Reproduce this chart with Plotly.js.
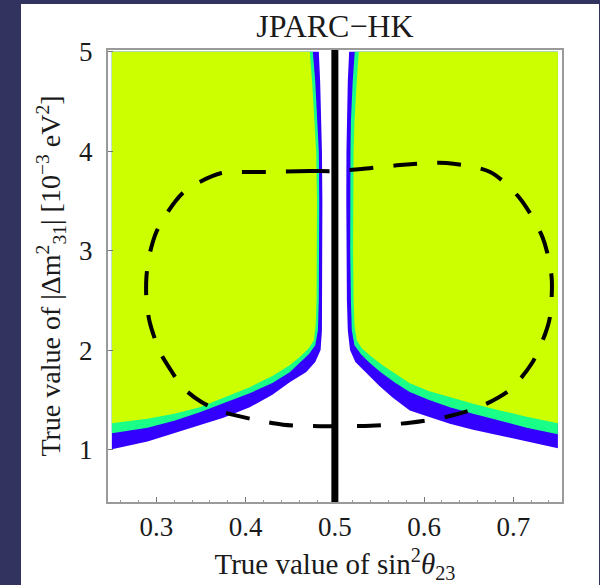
<!DOCTYPE html>
<html>
<head>
<meta charset="utf-8">
<script src="https://cdn.plot.ly/plotly-3.0.1.min.js"></script>
<style>
  html, body { margin: 0; padding: 0; background: #32335f; width: 600px; height: 585px; overflow: hidden; }
  #chart { position: absolute; left: 21px; top: 4px; width: 578px; height: 581px; background: #ffffff; }
</style>
</head>
<body>
<div id="chart"></div>
<script>
// ---- data ----
const chartTitle = "JPARC\u2212HK";
const gridMinX = 0.25, gridMaxX = 0.75, gridMaxY = 5.0;
const trueTheta = 0.5;

// left-hand region boundaries (from top of the frame down to the left edge)
const yellowLeftX = [0.4719, 0.4745, 0.4775, 0.479, 0.480, 0.480, 0.4795, 0.4785, 0.4765, 0.471, 0.462, 0.4494, 0.430, 0.4046, 0.375, 0.3486, 0.320, 0.290, 0.250];
const yellowLeftY = [5.0, 4.7, 4.3, 4.0, 3.5, 3.0, 2.5, 2.25, 2.10, 2.02, 1.94, 1.848, 1.74, 1.627, 1.52, 1.426, 1.36, 1.31, 1.265];
const greenLeftX  = [0.4753, 0.478, 0.4805, 0.482, 0.4825, 0.4825, 0.482, 0.481, 0.478, 0.471, 0.462, 0.4494, 0.430, 0.4046, 0.375, 0.3486, 0.320, 0.290, 0.250];
const greenLeftY  = [5.0, 4.7, 4.3, 4.0, 3.5, 3.0, 2.5, 2.2, 2.05, 1.96, 1.88, 1.778, 1.67, 1.566, 1.465, 1.375, 1.29, 1.22, 1.165];
const blueLeftX   = [0.482, 0.4835, 0.485, 0.4855, 0.486, 0.486, 0.486, 0.4855, 0.484, 0.478, 0.468, 0.4494, 0.430, 0.4046, 0.375, 0.3486, 0.320, 0.290, 0.250];
const blueLeftY   = [5.0, 4.7, 4.3, 4.0, 3.5, 3.0, 2.5, 2.2, 2.0, 1.88, 1.78, 1.677, 1.55, 1.426, 1.32, 1.245, 1.16, 1.08, 1.004];

// right-hand region boundaries (from top of the frame down to the right edge)
const yellowRightX = [0.5268, 0.5245, 0.522, 0.521, 0.5205, 0.5204, 0.521, 0.522, 0.5245, 0.530, 0.540, 0.553, 0.570, 0.584, 0.605, 0.6289, 0.655, 0.6849, 0.715, 0.750];
const yellowRightY = [5.0, 4.7, 4.3, 4.0, 3.5, 3.0, 2.5, 2.25, 2.10, 2.02, 1.94, 1.85, 1.75, 1.666, 1.59, 1.525, 1.46, 1.394, 1.33, 1.265];
const greenRightX  = [0.5223, 0.520, 0.518, 0.5175, 0.517, 0.5172, 0.518, 0.519, 0.522, 0.529, 0.538, 0.551, 0.568, 0.584, 0.605, 0.6289, 0.655, 0.6849, 0.715, 0.750];
const greenRightY  = [5.0, 4.7, 4.3, 4.0, 3.5, 3.0, 2.5, 2.2, 2.05, 1.96, 1.88, 1.78, 1.67, 1.58, 1.50, 1.425, 1.36, 1.293, 1.22, 1.154];
const blueRightX   = [0.516, 0.5145, 0.5135, 0.513, 0.5128, 0.513, 0.5135, 0.5145, 0.517, 0.523, 0.535, 0.550, 0.565, 0.584, 0.605, 0.6289, 0.655, 0.6849, 0.715, 0.750];
const blueRightY   = [5.0, 4.7, 4.3, 4.0, 3.5, 3.0, 2.5, 2.2, 2.0, 1.88, 1.77, 1.64, 1.52, 1.394, 1.33, 1.26, 1.20, 1.142, 1.08, 1.013];

// dashed contour
const dashX = [0.500, 0.472, 0.416, 0.373, 0.3485, 0.3295, 0.3127, 0.300, 0.2925, 0.2888, 0.2888, 0.2925, 0.304, 0.316, 0.330, 0.350, 0.374, 0.405, 0.442, 0.483, 0.500, 0.540, 0.584, 0.6254, 0.6624, 0.696, 0.721, 0.736, 0.741, 0.743, 0.733, 0.707, 0.674, 0.625, 0.573, 0.530, 0.500];
const dashY = [3.80, 3.80, 3.79, 3.78, 3.69, 3.58, 3.39, 3.19, 2.97, 2.74, 2.50, 2.28, 1.98, 1.80, 1.62, 1.48, 1.38, 1.31, 1.25, 1.235, 1.235, 1.24, 1.27, 1.33, 1.43, 1.60, 1.87, 2.17, 2.33, 2.73, 3.13, 3.53, 3.79, 3.88, 3.86, 3.82, 3.80];

const xTickVals = [0.3, 0.4, 0.5, 0.6, 0.7];
const xTickText = ["0.3", "0.4", "0.5", "0.6", "0.7"];
const yTickVals = [1, 2, 3, 4, 5];
const yTickText = ["1", "2", "3", "4", "5"];

// ---- colours ----
const cYellow = "#ccff00", cGreen = "#1aff88", cBlue = "#3300ff";

function region(bx, by, edgeX, color) {
  return {
    type: "scatter", mode: "lines",
    x: [edgeX].concat(bx), y: [gridMaxY].concat(by),
    fill: "toself", fillcolor: color,
    line: {width: 0, color: color},
    hoverinfo: "skip", showlegend: false
  };
}

const traces = [
  region(blueLeftX, blueLeftY, gridMinX, cBlue),
  region(blueRightX, blueRightY, gridMaxX, cBlue),
  region(greenLeftX, greenLeftY, gridMinX, cGreen),
  region(greenRightX, greenRightY, gridMaxX, cGreen),
  region(yellowLeftX, yellowLeftY, gridMinX, cYellow),
  region(yellowRightX, yellowRightY, gridMaxX, cYellow),
  {
    type: "scatter", mode: "lines", x: dashX, y: dashY,
    line: {color: "#000000", width: 4, dash: "24px,20px", shape: "spline", smoothing: 0.8},
    hoverinfo: "skip", showlegend: false
  }
];

const serif = "Liberation Serif, Times New Roman, serif";

const layout = {
  width: 578, height: 581,
  margin: {l: 87, r: 37, t: 46, b: 83, pad: 0},
  paper_bgcolor: "#ffffff", plot_bgcolor: "#ffffff",
  showlegend: false, hovermode: false,
  font: {family: serif, color: "#1a1a1a"},
  title: {
    text: chartTitle, font: {family: serif, size: 32, color: "#1a1a1a"},
    x: 0.5, xref: "paper", y: 0.962, yref: "container", yanchor: "middle"
  },
  xaxis: {
    range: [0.2457, 0.7546], tickvals: xTickVals, ticktext: xTickText,
    ticks: "inside", ticklen: 5, tickwidth: 1, tickcolor: "#777777",
    minor: {dtick: 0.02, ticks: "inside", ticklen: 2.5, tickcolor: "#999999"},
    showgrid: false, zeroline: false,
    showline: true, mirror: true, linecolor: "#9a9a9a", linewidth: 2,
    tickfont: {family: serif, size: 27, color: "#1a1a1a"},
    title: {text: "True value of sin<sup>2</sup><i>\u03b8</i><sub>23</sub>", font: {family: serif, size: 29, color: "#1a1a1a"}, standoff: 12}
  },
  yaxis: {
    range: [0.473, 5.017], tickvals: yTickVals, ticktext: yTickText,
    ticks: "inside", ticklen: 5, tickwidth: 1, tickcolor: "#777777",
    showgrid: false, zeroline: false,
    showline: true, mirror: true, linecolor: "#9a9a9a", linewidth: 2,
    tickfont: {family: serif, size: 27, color: "#1a1a1a"},
    ticklabelstandoff: 8,
    title: {text: "True value of |\u0394m<sup>2</sup><sub>31</sub>| [10<sup>\u22123</sup> eV<sup>2</sup>]", font: {family: serif, size: 28, color: "#1a1a1a"}, standoff: 10}
  },
  shapes: [
    {type: "line", xref: "x", yref: "paper", x0: trueTheta, x1: trueTheta, y0: 0, y1: 1,
     line: {color: "#000000", width: 7}, layer: "above"}
  ]
};

Plotly.newPlot("chart", traces, layout, {displayModeBar: false, staticPlot: true});
</script>
</body>
</html>
